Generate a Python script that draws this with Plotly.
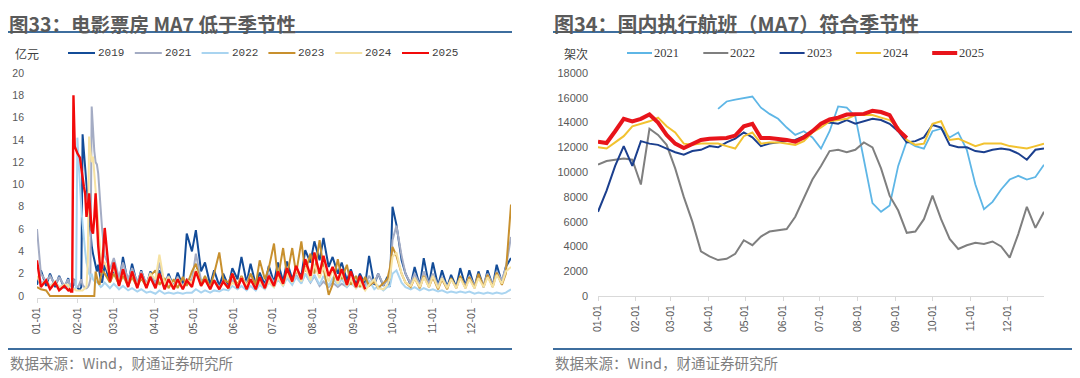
import pandas as pd
import plotly.graph_objects as go

# ---------------- data ----------------
MONTH_LABELS = ["01-01", "02-01", "03-01", "04-01", "05-01", "06-01",
                "07-01", "08-01", "09-01", "10-01", "11-01", "12-01"]

# Box office (亿元), day-of-year sample points
BOX_DAYS = [0, 3, 7, 10, 14, 17, 21,
            24, 25, 26, 27, 28, 29, 30, 31, 32, 33, 34, 35, 36, 37, 38, 39, 40, 41, 42, 43, 44,
            45, 46, 47, 48, 49, 50,
            52, 56, 59, 63, 66, 70, 73, 77, 80, 84, 87, 91, 94, 98, 101, 105, 108, 112, 115, 119,
            122, 126, 129, 133, 136, 140, 143, 147, 150, 154, 157, 161, 164, 168, 171, 175, 178, 182,
            185, 189, 192, 196, 199, 203, 206, 210, 213, 217, 220, 224, 227, 231, 234, 238, 241, 245,
            248, 252, 255, 259, 262, 266, 269,
            271, 273, 276, 280, 283, 287, 290, 294, 297, 301, 304, 308, 311, 315, 318, 322, 325, 329,
            332, 336, 339, 343, 346, 350, 353, 357, 360, 364]

BOX_2019 = [1.0, 2.3, 0.9, 2.0, 0.8, 1.8, 0.7,
            1.6, 1.0, 0.7, 0.6, 1.0, 1.5, 0.9, 0.7, 0.6, 0.6, 0.8, 14.5, 12.5, 11.5, 10.0, 8.5, 7.0,
            5.5, 4.5, 3.8, 3.2, 2.6, 2.2, 2.8, 1.9, 1.4, 1.2,
            2.8, 1.2, 2.4, 1.0, 3.5, 1.1, 2.9, 1.0, 2.3, 0.9,
            2.2, 0.9, 2.3, 0.8, 2.0, 0.8, 2.1, 0.9, 5.6, 4.0,
            5.9, 2.2, 3.0, 1.0, 2.3, 0.9, 2.0, 0.9, 2.5, 1.5,
            3.5, 1.2, 2.9, 1.0, 2.1, 1.0, 2.7, 1.2, 3.0, 1.3,
            3.1, 1.5, 2.4, 1.8, 4.1, 3.0, 4.9, 3.2, 5.2, 2.6,
            3.5, 2.0, 3.0, 1.4, 2.4, 1.0, 2.0, 1.0, 3.6, 1.0,
            2.0, 0.9, 1.7,
            0.8, 8.0, 6.4, 3.2, 2.0, 1.0, 2.6, 0.9, 3.4, 1.0,
            3.0, 0.9, 2.3, 0.8, 1.9, 0.8, 2.5, 0.9, 2.3, 0.8,
            2.2, 0.8, 2.3, 0.9, 2.8, 1.2, 2.6, 3.4]

BOX_2021 = [6.0, 2.0, 1.3, 1.8, 1.0, 1.7, 0.9,
            1.5, 1.0, 0.9, 1.2, 1.6, 1.0, 0.9, 0.8, 0.9, 1.2, 1.5, 1.0, 0.8, 0.7, 0.7, 0.8, 1.0,
            1.5, 17.0, 14.5, 13.0, 12.0, 11.8, 11.0, 9.0, 7.5, 6.0,
            3.6, 2.4, 3.4, 1.6, 3.0, 1.4, 2.5, 1.2, 2.2, 1.1,
            2.0, 1.1, 3.0, 1.1, 1.8, 0.9, 1.7, 0.9, 1.5, 1.4,
            3.8, 1.4, 1.5, 0.8, 1.4, 0.8, 1.3, 0.8, 1.4, 0.9,
            1.5, 1.2, 2.0, 0.9, 1.5, 0.9, 2.0, 1.2, 1.8, 1.0,
            2.0, 1.1, 1.9, 1.2, 2.0, 1.2, 1.8, 0.9, 1.3, 0.8,
            1.2, 0.8, 1.1, 0.8, 1.2, 0.8, 1.4, 1.0, 1.8, 1.1,
            2.0, 1.0, 1.4,
            1.8, 5.0, 6.3, 3.6, 2.0, 1.1, 2.0, 1.0, 2.2, 1.1,
            2.0, 0.9, 1.7, 0.8, 1.5, 0.8, 1.7, 0.9, 1.8, 0.9,
            1.8, 1.0, 2.0, 1.0, 2.2, 1.4, 2.5, 5.3]

BOX_2022 = [3.0, 1.2, 1.4, 0.9, 1.3, 0.8, 1.0,
            0.9, 0.8, 0.7, 0.7, 0.6, 0.6, 0.8, 14.2, 12.0, 9.3, 8.0, 6.5, 5.0, 4.0, 3.0, 2.4, 2.0,
            1.8, 2.0, 1.5, 1.3, 1.2, 1.3, 1.1, 0.9, 0.8, 0.9,
            1.2, 0.7, 1.1, 0.6, 0.9, 0.5, 0.7, 0.4, 0.6, 0.3,
            0.4, 0.2, 0.5, 0.2, 0.3, 0.2, 0.3, 0.2, 0.3, 0.3,
            0.6, 0.3, 0.5, 0.3, 0.5, 0.4, 0.6, 0.5, 0.9, 0.6,
            0.9, 0.5, 0.9, 0.5, 1.0, 0.6, 1.2, 0.8, 1.5, 0.9,
            1.6, 1.0, 1.7, 1.1, 2.0, 1.2, 1.9, 1.0, 1.8, 0.9,
            1.6, 1.0, 1.5, 0.8, 1.2, 0.7, 1.0, 0.6, 1.4, 0.6,
            0.9, 0.5, 0.8,
            0.9, 2.0, 2.3, 1.2, 0.8, 0.6, 0.8, 0.5, 0.7, 0.5,
            0.6, 0.4, 0.5, 0.3, 0.4, 0.3, 0.4, 0.3, 0.4, 0.2,
            0.3, 0.2, 0.3, 0.2, 0.3, 0.2, 0.3, 0.6]

BOX_2023 = [0.8, 0.6, 0.5, 0.0, 0.0, 0.0, 0.0,
            0.0, 0.0, 0.0, 0.0, 0.0, 0.0, 0.0, 0.0, 0.0, 0.0, 0.0, 0.0, 0.0, 0.0, 0.0, 0.0, 0.0,
            0.0, 0.0, 0.0, 0.0, 2.2, 1.5, 1.2, 1.0, 1.8, 2.3,
            2.0, 1.2, 2.0, 1.0, 1.8, 0.9, 1.7, 0.8, 1.6, 0.8,
            1.8, 2.3, 1.0, 1.6, 0.7, 1.5, 0.7, 1.7, 0.9, 2.2,
            2.9, 1.0, 1.8, 0.8, 2.0, 3.9, 1.5, 1.2, 2.0, 1.0,
            1.8, 0.9, 2.0, 1.0, 3.2, 1.5, 2.5, 4.7, 1.6, 4.3,
            1.8, 4.3, 2.0, 4.9, 2.2, 3.8, 2.0, 5.0, 2.5, 0.1,
            1.0, 3.3, 1.5, 2.8, 1.0, 1.8, 0.8, 1.7, 0.9, 1.3,
            0.7, 1.2, 1.5,
            2.5, 4.4, 3.6, 2.0, 1.2, 0.8, 1.6, 0.7, 1.8, 0.8,
            1.7, 0.6, 1.5, 0.6, 1.6, 0.7, 1.8, 0.7, 1.7, 0.7,
            2.0, 0.8, 1.9, 0.8, 2.1, 1.0, 2.0, 8.2]

BOX_2024 = [1.8, 1.0, 1.4, 0.8, 1.3, 0.7, 1.0,
            1.0, 0.7, 0.6, 0.6, 0.6, 0.6, 0.5, 0.5, 0.5, 0.5, 0.5, 0.5, 0.6, 0.7, 0.8, 3.0, 14.3,
            13.0, 12.0, 12.5, 11.0, 9.5, 7.5, 6.0, 4.5, 3.5, 3.0,
            3.0, 1.8, 2.4, 1.3, 2.2, 1.1, 2.0, 1.0, 1.8, 0.9,
            2.0, 1.5, 3.7, 1.0, 1.7, 0.8, 1.5, 0.8, 1.4, 1.2,
            2.4, 0.9, 1.4, 0.7, 1.3, 0.7, 1.2, 0.7, 1.2, 0.9,
            1.6, 1.0, 1.4, 0.7, 1.3, 0.7, 1.3, 0.8, 1.7, 0.9,
            2.0, 1.2, 2.4, 1.3, 2.6, 1.4, 2.8, 1.6, 2.6, 1.3,
            2.4, 1.1, 2.0, 0.9, 1.5, 0.7, 1.2, 0.5, 1.0, 1.5,
            0.7, 0.6, 1.0,
            1.6, 3.5, 3.9, 2.0, 1.2, 0.9, 1.6, 0.8, 1.7, 0.8,
            1.8, 0.7, 1.6, 0.7, 1.5, 0.7, 1.6, 0.7, 1.5, 0.7,
            1.6, 0.8, 1.7, 0.8, 1.9, 1.1, 2.2, 2.6]

BOX_2025 = [3.2, 0.8, 1.4, 0.6, 1.2, 0.5, 0.9,
            0.5, 0.6, 0.4, 0.4, 18.0, 13.4, 13.0, 12.8, 12.6, 12.4, 11.5, 10.5, 9.8, 9.2, 7.1, 8.0,
            9.2, 7.5, 5.9, 5.6, 7.0, 9.2, 6.5, 4.5, 3.2, 2.1, 2.6,
            6.1, 1.3, 3.0, 0.9, 2.4, 0.8, 2.2, 0.7, 2.0, 0.7,
            1.7, 0.7, 2.0, 0.6, 1.5, 0.6, 1.5, 0.6, 1.4, 0.8,
            2.2, 0.9, 1.5, 0.6, 1.4, 0.6, 1.3, 0.7, 2.0, 0.7,
            1.6, 0.6, 1.5, 0.6, 1.7, 0.7, 1.8, 0.9, 2.2, 1.1,
            2.5, 1.3, 2.7, 1.5, 3.3, 1.8, 3.9, 2.0, 3.6, 1.8,
            2.6, 1.4, 2.4, 1.0, 2.2, 0.8, 1.8, 0.6]

# Domestic flights MA7 (架次), weekly sample points
FLT_DAYS = [0, 7, 14, 21, 28, 35, 42, 49, 56, 63, 70, 77, 84, 91, 98, 105, 112, 119, 126, 133,
            140, 147, 154, 161, 168, 175, 182, 189, 196, 203, 210, 217, 224, 231, 238, 245, 252,
            259, 266, 273, 280, 287, 294, 301, 308, 315, 322, 329, 336, 343, 350, 357, 364]

FLT_2021 = [None, None, None, None, None, None, None, None, None, None, None, None, None, None,
            15100, 15700, 15850, 16000, 16100, 15200, 14700, 14300, 13600, 13000,
            13300, 12800, 11900, 13300, 15300, 15200, 14500, 11000, 7500, 6800,
            7300, 10500, 12500, 12100, 11900, 13300, 13500, 12800, 13200, 11800,
            9000, 7000, 7600, 8600, 9400, 9700, 9400, 9600, 10600]

FLT_2022 = [10600, 10900, 11000, 11100, 11000, 9000, 13500, 13000, 12200, 10300,
            8000, 6000, 3600, 3200, 2900, 3000, 3400, 4500, 4100, 4800,
            5200, 5300, 5400, 6400, 7900, 9400, 10500, 11700, 11800, 11600,
            11800, 12400, 12000, 10300, 8100, 6900, 5100, 5200, 6200, 8100,
            6200, 4600, 3800, 4100, 4300, 4200, 4400, 4000, 3100, 5000,
            7200, 5500, 6800]

FLT_2023 = [6800, 8500, 10500, 12100, 10500, 12500, 12300, 12200, 11900, 11600,
            11400, 11700, 11800, 12100, 12000, 12400, 12700, 13200, 12800, 12100,
            12300, 12400, 12500, 12600, 12900, 13300, 13900, 14000, 13900, 14200,
            13900, 14100, 14300, 14200, 13900, 13300, 12400, 12500, 12800, 13800,
            13600, 12200, 12000, 12000, 11700, 11600, 11800, 11900, 11800, 11500,
            11000, 11800, 11900]

FLT_2024 = [12000, 11900, 12400, 12900, 13700, 13900, 14100, 14400, 13700, 13200,
            12300, 12200, 12300, 12300, 12300, 12100, 11900, 12900, 13200, 12300,
            12400, 12400, 12300, 12200, 12500, 13200, 13600, 14100, 14200, 14300,
            14600, 14600, 14600, 14400, 14200, 13600, 12600, 12200, 12300, 13900,
            14100, 12600, 12700, 12400, 12100, 12300, 12300, 12300, 12100, 12000,
            11900, 12100, 12300]

FLT_2025 = [12450, 12350, 13300, 14300, 14100, 14300, 14650, 14000, 13000, 12300,
            11950, 12300, 12600, 12700, 12700, 12750, 12950, 13700, 13900, 12750,
            12750, 12700, 12600, 12450, 12800, 13300, 13900, 14250, 14400, 14650,
            14700, 14700, 14950, 14850, 14600, 13400, 12750]

# ---------------- figure ----------------
W, H = 1080, 378
OFF = 8  # page offset of the plot div (default body margin)


def px(x):
    return (x - OFF) / W


def py(y):
    return 1 - (y - OFF) / H


BASE = pd.Timestamp("2021-01-01")


def to_dates(days):
    return [BASE + pd.Timedelta(days=d) for d in days]


TICKVALS = [pd.Timestamp("2021-" + m) for m in MONTH_LABELS]
XRANGE = [BASE, BASE + pd.Timedelta(days=364)]

fig = go.Figure()

box_series = [
    ("2019", BOX_2019, "#134C98", 2.0),
    ("2021", BOX_2021, "#A4ACC4", 2.0),
    ("2022", BOX_2022, "#A9D4F0", 2.0),
    ("2023", BOX_2023, "#C8902E", 2.0),
    ("2024", BOX_2024, "#F6E2A2", 2.0),
    ("2025", BOX_2025, "#F20A0A", 2.4),
]
for name, vals, color, width in box_series:
    fig.add_trace(go.Scatter(
        x=to_dates(BOX_DAYS[:len(vals)]), y=vals, mode="lines", name=name,
        line=dict(color=color, width=width), xaxis="x", yaxis="y",
        hoverinfo="skip", showlegend=False))

flt_series = [
    ("2021", FLT_2021, "#5EB6E6", 1.8),
    ("2022", FLT_2022, "#7F7F7F", 2.0),
    ("2023", FLT_2023, "#1B3F8E", 2.0),
    ("2024", FLT_2024, "#F2C230", 2.0),
    ("2025", FLT_2025, "#E8141B", 4.0),
]
for name, vals, color, width in flt_series:
    fig.add_trace(go.Scatter(
        x=to_dates(FLT_DAYS[:len(vals)]), y=vals, mode="lines", name=name,
        line=dict(color=color, width=width), xaxis="x2", yaxis="y2",
        hoverinfo="skip", showlegend=False, connectgaps=False))

tickfont = dict(family="Liberation Sans, Arial", size=10.5, color="#595959")

common_x = dict(type="date", range=XRANGE, tickvals=TICKVALS, ticktext=MONTH_LABELS,
                tickangle=-90, tickfont=tickfont, showgrid=False, zeroline=False,
                showline=True, linecolor="#D9D9D9", linewidth=1, automargin=False,
                ticks="outside", ticklen=4, tickcolor="#D9D9D9", fixedrange=True)

fig.update_layout(
    width=W, height=H,
    margin=dict(l=0, r=0, t=0, b=0, pad=0, autoexpand=False),
    paper_bgcolor="white", plot_bgcolor="white", showlegend=False,
    xaxis=dict(domain=[px(37), px(511)], anchor="y", **common_x),
    yaxis=dict(domain=[py(298.2), py(73)], range=[-0.2, 20], dtick=2, tick0=0,
               tickfont=dict(family="Liberation Sans, Arial", size=10.5, color="#595959"),
               showgrid=False, zeroline=False, showline=False, ticks="", automargin=False,
               ticklabelstandoff=12, anchor="x", fixedrange=True),
    xaxis2=dict(domain=[px(598), px(1044)], anchor="y2", **common_x),
    yaxis2=dict(domain=[py(296), py(73)], range=[0, 18000], dtick=2000, tick0=0,
                tickformat="d",
                tickfont=dict(family="Liberation Sans, Arial", size=11, color="#595959"),
                showgrid=False, zeroline=False, showline=False, ticks="", automargin=False,
                ticklabelstandoff=9, anchor="x2", fixedrange=True),
)

shapes = []
annotations = []
RULE = "#3E6E9E"

# title rules and bottom rules
for (x0, x1) in [(OFF, 512), (553, 1080)]:
    shapes.append(dict(type="line", xref="paper", yref="paper", x0=px(x0), x1=px(x1),
                       y0=py(32), y1=py(32), line=dict(color=RULE, width=2)))
    shapes.append(dict(type="line", xref="paper", yref="paper", x0=px(x0), x1=px(x1),
                       y0=py(349), y1=py(349), line=dict(color=RULE, width=2)))

TITLE_FONT = dict(family="Noto Sans CJK SC", size=19.5, color="#5A5A5A", weight="bold")
annotations.append(dict(text="图33：电影票房 MA7 低于季节性", x=px(OFF), y=py(8),
                        xref="paper", yref="paper", xanchor="left", yanchor="top",
                        showarrow=False, font=TITLE_FONT, borderpad=0))
annotations.append(dict(text="图34：国内执行航班（MA7）符合季节性", x=px(553), y=py(8),
                        xref="paper", yref="paper", xanchor="left", yanchor="top",
                        showarrow=False, font=dict(TITLE_FONT, size=20), borderpad=0))

SRC_FONT = dict(family="Noto Sans CJK SC", size=14.5, color="#7F7F7F")
for x0 in (OFF, 553):
    annotations.append(dict(text="数据来源：Wind，财通证券研究所", x=px(x0), y=py(362),
                            xref="paper", yref="paper", xanchor="left", yanchor="middle",
                            showarrow=False, font=SRC_FONT))

UNIT_FONT = dict(family="Noto Sans CJK SC", size=12, color="#404040")
annotations.append(dict(text="亿元", x=px(13), y=py(53), xref="paper", yref="paper",
                        xanchor="left", yanchor="middle", showarrow=False, font=UNIT_FONT))
annotations.append(dict(text="架次", x=px(562), y=py(53), xref="paper", yref="paper",
                        xanchor="left", yanchor="middle", showarrow=False, font=UNIT_FONT))

# legends (drawn from the series definitions)
for k, (name, vals, color, width) in enumerate(box_series):
    lx = 68 + 66.8 * k
    shapes.append(dict(type="line", xref="paper", yref="paper", x0=px(lx), x1=px(lx + 27),
                       y0=py(53), y1=py(53), line=dict(color=color, width=2)))
    annotations.append(dict(text=name, x=px(lx + 28), y=py(53.5), xref="paper", yref="paper",
                            xanchor="left", yanchor="middle", showarrow=False,
                            font=dict(family="Liberation Mono", size=11, color="#404040")))

for k, (name, vals, color, width) in enumerate(flt_series):
    lx = 627 + 76.3 * k
    shapes.append(dict(type="line", xref="paper", yref="paper", x0=px(lx), x1=px(lx + 25),
                       y0=py(53), y1=py(53),
                       line=dict(color=color, width=4 if name == "2025" else 2)))
    annotations.append(dict(text=name, x=px(lx + 25), y=py(53.5), xref="paper", yref="paper",
                            xanchor="left", yanchor="middle", showarrow=False,
                            font=dict(family="Liberation Serif", size=12.5, color="#404040")))

fig.update_layout(shapes=shapes, annotations=annotations)

fig.write_html("out.html")
